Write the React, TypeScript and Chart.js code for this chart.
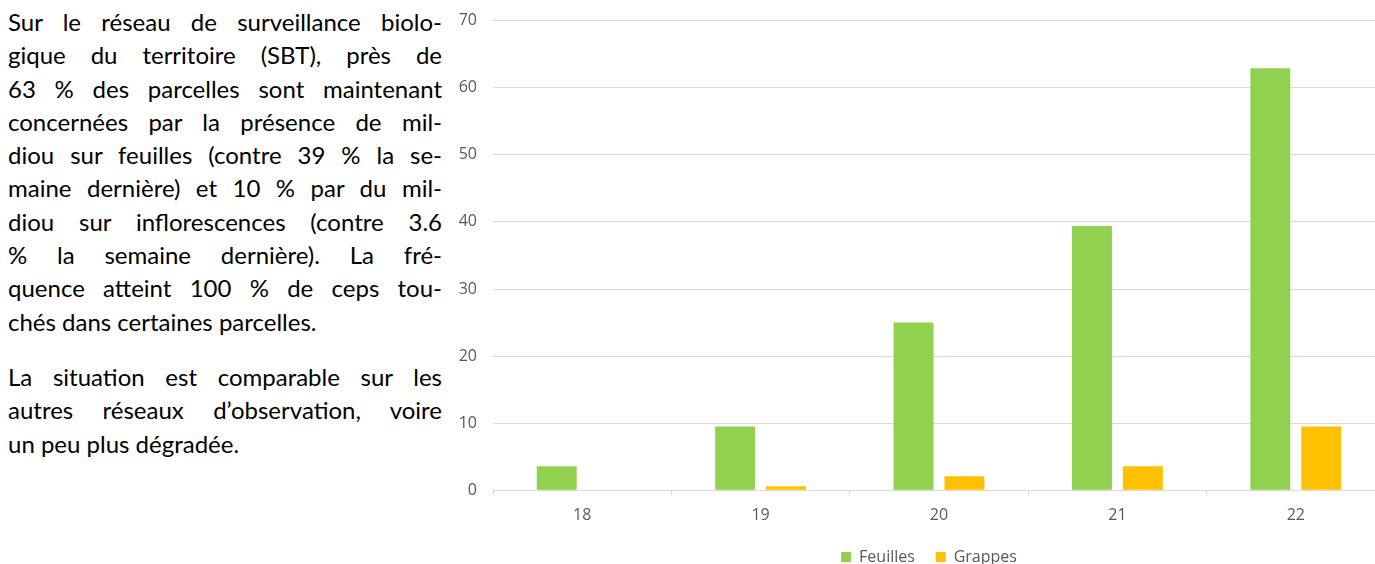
import React, { useEffect, useRef } from "react";
import { Chart, registerables } from "chart.js";

Chart.register(...registerables);

const weeks = ["18", "19", "20", "21", "22"];
const feuilles = [3.6, 9.5, 25, 39.4, 62.9];
const grappes = [0, 0.6, 2.1, 3.6, 9.5];
const yTicks = [0, 10, 20, 30, 40, 50, 60, 70];
const seriesNames = ["Feuilles", "Grappes"];
const seriesColors = ["#92D050", "#FFC000"];

const paragraph1 = [
  "Sur le réseau de surveillance biolo-",
  "gique du territoire (SBT), près de",
  "63 % des parcelles sont maintenant",
  "concernées par la présence de mil-",
  "diou sur feuilles (contre 39 % la se-",
  "maine dernière) et 10 % par du mil-",
  "diou sur inflorescences (contre 3.6",
  "% la semaine dernière). La fré-",
  "quence atteint 100 % de ceps tou-",
  "chés dans certaines parcelles.",
];
const paragraph2 = [
  "La situation est comparable sur les",
  "autres réseaux d’observation, voire",
  "un peu plus dégradée.",
];

const CANVAS_W = 968;
const CANVAS_H = 580;

function Para({ lines, style }: { lines: string[]; style?: React.CSSProperties }) {
  return (
    <div style={style}>
      {lines.map((l, i) => {
        const last = i === lines.length - 1;
        return (
          <div
            key={i}
            style={{
              whiteSpace: "nowrap",
              textAlign: last ? "left" : "justify",
              textAlignLast: last ? "left" : "justify",
              height: 33.3,
              lineHeight: "33.3px",
            }}
          >
            {l}
          </div>
        );
      })}
    </div>
  );
}

export default function App() {
  const canvasRef = useRef<HTMLCanvasElement | null>(null);

  useEffect(() => {
    if (!canvasRef.current) return;
    const font = { family: "'Open Sans', sans-serif", size: 16 };
    const chart = new Chart(canvasRef.current, {
      type: "bar",
      data: {
        labels: weeks,
        datasets: [
          {
            label: seriesNames[0],
            data: feuilles,
            backgroundColor: seriesColors[0],
            borderWidth: 0,
            categoryPercentage: 0.571,
            barPercentage: 0.784,
          },
          {
            label: seriesNames[1],
            data: grappes,
            backgroundColor: seriesColors[1],
            borderWidth: 0,
            categoryPercentage: 0.571,
            barPercentage: 0.784,
          },
        ],
      },
      options: {
        animation: false,
        responsive: false,
        maintainAspectRatio: false,
        layout: { padding: { top: 0, left: 0, right: 0, bottom: 0 } },
        scales: {
          x: {
            grid: {
              display: true,
              drawOnChartArea: false,
              drawTicks: true,
              tickLength: 5,
              offset: true,
              color: "#D9D9D9",
            },
            border: { display: true, color: "#D9D9D9", width: 1 },
            ticks: { color: "#595959", padding: 11, font },
          },
          y: {
            min: 0,
            max: 70,
            afterBuildTicks: (scale: any) => {
              scale.ticks = yTicks.map((v) => ({ value: v }));
            },
            afterFit: (scale: any) => {
              scale.width = 48;
            },
            grid: { color: "#D9D9D9", drawTicks: false },
            border: { display: false },
            ticks: { color: "#595959", padding: 16, font },
          },
          spacer: {
            type: "linear",
            position: "right",
            display: true,
            grid: { display: false, drawTicks: false },
            border: { display: false },
            ticks: { display: false },
            afterFit: (scale: any) => {
              scale.width = 28;
            },
          },
        },
        plugins: {
          legend: {
            position: "bottom",
            labels: {
              boxWidth: 10,
              boxHeight: 10,
              padding: 12.5,
              color: "#595959",
              font,
              generateLabels: (c: any) => {
                const items = Chart.defaults.plugins.legend.labels.generateLabels(c);
                return items.map((it: any, i: number) => ({
                  ...it,
                  text: i < items.length - 1 ? it.text + "  " : it.text,
                }));
              },
            },
          },
          tooltip: { enabled: false },
        },
      },
    } as any);
    return () => chart.destroy();
  }, []);

  return (
    <div
      style={{
        position: "fixed",
        left: 0,
        top: 0,
        width: 1375,
        height: 564,
        overflow: "hidden",
        background: "#fff",
      }}
    >
      <div
        style={{
          position: "absolute",
          left: 8,
          top: 5,
          width: 434,
          fontFamily: "Lato, 'Open Sans', sans-serif",
          fontSize: 24,
          color: "#000",
        }}
      >
        <Para lines={paragraph1} />
        <Para lines={paragraph2} style={{ marginTop: 22 }} />
      </div>
      <div style={{ position: "absolute", left: 445, top: -5, width: CANVAS_W, height: CANVAS_H }}>
        <canvas
          ref={canvasRef}
          width={CANVAS_W}
          height={CANVAS_H}
          style={{ width: CANVAS_W, height: CANVAS_H, display: "block" }}
        />
      </div>
    </div>
  );
}
